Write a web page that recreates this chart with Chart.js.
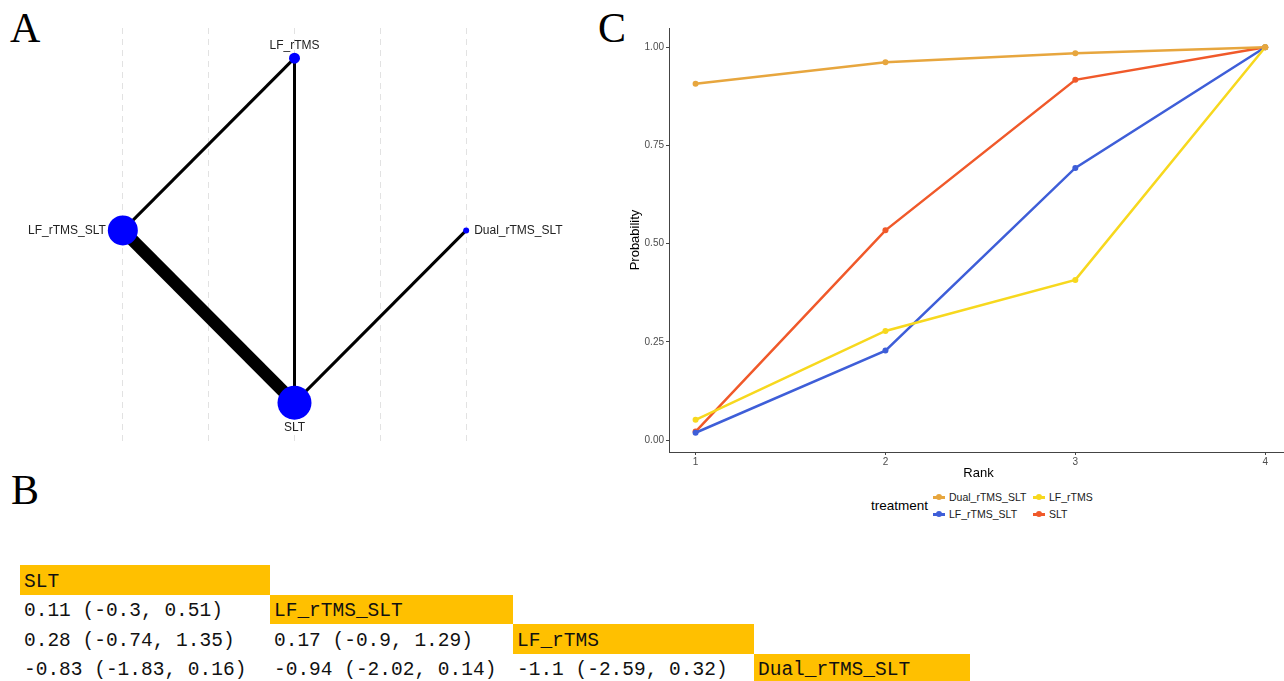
<!DOCTYPE html>
<html>
<head>
<meta charset="utf-8">
<script src="https://cdn.jsdelivr.net/npm/chart.js@4.4.1/dist/chart.umd.min.js"></script>
<style>
html, body { margin: 0; padding: 0; width: 1284px; height: 681px; overflow: hidden; background: #fff; }
.tag { position: absolute; font-family: "Liberation Serif", serif; font-size: 42px; line-height: 42px; color: #000; }
#netWrap { position: absolute; left: 0; top: 0; }
#rankWrap { position: absolute; left: 600px; top: 0; }
#league { position: absolute; left: 20px; top: 565px; border-collapse: collapse; table-layout: fixed; width: 950px;
  font-family: "Liberation Mono", monospace; font-size: 19.5px; color: #111; }
#league td { height: 29.5px; padding: 0 0 2px 4px; box-sizing: border-box; vertical-align: bottom; white-space: nowrap; line-height: 22px; }
#league td.diag { background: #FFC000; }
#legendTitle { position: absolute; left: 871px; top: 498px; font-family: "Liberation Sans", sans-serif; font-size: 13.5px; color: #000; }
#legendItems { position: absolute; left: 933px; top: 489px; display: grid; grid-template-columns: 100px 100px; row-gap: 1px;
  font-family: "Liberation Sans", sans-serif; font-size: 10.5px; color: #1a1a1a; }
.item { display: flex; align-items: center; height: 16px; }
.key { position: relative; width: 12px; height: 16px; margin-right: 4px; }
.key .ln { position: absolute; left: 0; top: 7px; width: 12px; height: 2.5px; }
.key .pt { position: absolute; left: 3px; top: 5px; width: 6px; height: 6px; border-radius: 50%; }
</style>
</head>
<body>
<div class="tag" style="left:10px; top:7px;">A</div>
<div class="tag" style="left:11px; top:469px;">B</div>
<div class="tag" style="left:598px; top:7px;">C</div>

<div id="netWrap"><canvas id="network" width="600" height="461"></canvas></div>
<div id="rankWrap"><canvas id="ranking" width="692" height="484"></canvas></div>
<div id="legendTitle">treatment</div>
<div id="legendItems"></div>
<table id="league"><colgroup><col style="width:250px"><col style="width:243px"><col style="width:241px"><col style="width:216px"></colgroup><tbody></tbody></table>

<script>
// ---- A: network plot
const nodeNames = ['LF_rTMS', 'LF_rTMS_SLT', 'Dual_rTMS_SLT', 'SLT'];
const nodeX = [0, -1, 1, 0];
const nodeY = [1, 0, 0, -1];
const nodeWeight = [5.5, 15, 3, 17];   // drawn as point radius
const edgeFrom = ['LF_rTMS', 'LF_rTMS', 'LF_rTMS_SLT', 'SLT'];
const edgeTo = ['LF_rTMS_SLT', 'SLT', 'SLT', 'Dual_rTMS_SLT'];
const edgeWeight = [3, 3, 12.5, 3];    // drawn as line width
const gridX = [-1, -0.5, 0, 0.5, 1];

// ---- B: league table (row treatment vs column treatment)
const leagueNames = ['SLT', 'LF_rTMS_SLT', 'LF_rTMS', 'Dual_rTMS_SLT'];
const leagueMean = [[], [0.11], [0.28, 0.17], [-0.83, -0.94, -1.1]];
const leagueLow = [[], [-0.3], [-0.74, -0.9], [-1.83, -2.02, -2.59]];
const leagueHigh = [[], [0.51], [1.35, 1.29], [0.16, 0.14, 0.32]];

// ---- C: cumulative ranking probabilities
const ranks = [1, 2, 3, 4];
const treatments = ['Dual_rTMS_SLT', 'LF_rTMS', 'LF_rTMS_SLT', 'SLT'];
const dualProb = [0.907, 0.962, 0.985, 1.0];
const lfProb = [0.052, 0.278, 0.408, 1.0];
const lfSltProb = [0.019, 0.228, 0.693, 1.0];
const sltProb = [0.022, 0.534, 0.917, 1.0];
const yTicks = [0, 0.25, 0.5, 0.75, 1];

const colors = ['#E7A63E', '#F7D81E', '#3E5ED8', '#F0592A'];
const labelSide = ['top', 'left', 'right', 'bottom'];

// network
const idx = name => nodeNames.indexOf(name);
const edgeSets = edgeFrom.map((f, i) => ({
  type: 'line',
  showLine: true,
  data: [{ x: nodeX[idx(f)], y: nodeY[idx(f)] }, { x: nodeX[idx(edgeTo[i])], y: nodeY[idx(edgeTo[i])] }],
  borderColor: '#000',
  borderWidth: edgeWeight[i],
  pointRadius: 0,
  order: 1
}));

const nodeLabels = {
  id: 'nodeLabels',
  afterDatasetsDraw(chart) {
    const ctx = chart.ctx;
    const sx = chart.scales.x, sy = chart.scales.y;
    ctx.save();
    ctx.font = '12px "Liberation Sans", Arial, sans-serif';
    ctx.fillStyle = '#222';
    nodeNames.forEach((n, i) => {
      const px = sx.getPixelForValue(nodeX[i]);
      const py = sy.getPixelForValue(nodeY[i]);
      const r = nodeWeight[i];
      ctx.textBaseline = 'middle';
      if (labelSide[i] === 'top') { ctx.textAlign = 'center'; ctx.fillText(n, px, py - r - 7); }
      if (labelSide[i] === 'bottom') { ctx.textAlign = 'center'; ctx.fillText(n, px, py + r + 8); }
      if (labelSide[i] === 'left') { ctx.textAlign = 'right'; ctx.fillText(n, px - r - 2, py); }
      if (labelSide[i] === 'right') { ctx.textAlign = 'left'; ctx.fillText(n, px + r + 5, py); }
    });
    ctx.restore();
  }
};

new Chart(document.getElementById('network'), {
  type: 'scatter',
  data: {
    datasets: [{
      data: nodeX.map((x, i) => ({ x: x, y: nodeY[i] })),
      pointRadius: nodeWeight,
      pointHoverRadius: nodeWeight,
      backgroundColor: '#0000FF',
      borderWidth: 0,
      order: 0
    }].concat(edgeSets)
  },
  options: {
    responsive: false,
    animation: false,
    layout: { padding: { left: 37, right: 48, top: 28, bottom: 7 } },
    plugins: { legend: { display: false }, tooltip: { enabled: false } },
    scales: {
      x: {
        type: 'linear', min: -1.5, max: 1.5,
        afterBuildTicks: s => { s.ticks = gridX.map(v => ({ value: v })); },
        afterFit: s => { s.height = 0; },
        ticks: { display: false },
        grid: { color: '#e2e2e2', drawTicks: false, lineWidth: 1 },
        border: { display: false, dash: [6, 5] }
      },
      y: { min: -1.24, max: 1.175, display: false }
    }
  },
  plugins: [nodeLabels]
});

// league table
const tbody = document.querySelector('#league tbody');
leagueNames.forEach((name, r) => {
  const tr = document.createElement('tr');
  for (let c = 0; c < leagueNames.length; c++) {
    const td = document.createElement('td');
    if (c < r) td.textContent = leagueMean[r][c] + ' (' + leagueLow[r][c] + ', ' + leagueHigh[r][c] + ')';
    if (c === r) { td.textContent = name; td.className = 'diag'; }
    tr.appendChild(td);
  }
  tbody.appendChild(tr);
});

// ranking chart
const probs = [dualProb, lfProb, lfSltProb, sltProb];
const tickFont = { family: 'Liberation Sans', size: 10 };
const titleFont = { family: 'Liberation Sans', size: 13 };

new Chart(document.getElementById('ranking'), {
  type: 'line',
  data: {
    datasets: treatments.map((t, i) => ({
      label: t,
      data: ranks.map((r, j) => ({ x: r, y: probs[i][j] })),
      borderColor: colors[i],
      backgroundColor: colors[i],
      borderWidth: 2.5,
      pointRadius: 3,
      pointBorderWidth: 0,
      tension: 0
    }))
  },
  options: {
    responsive: false,
    animation: false,
    layout: { padding: { left: 28, top: 28, right: 0, bottom: 0 } },
    plugins: { legend: { display: false }, tooltip: { enabled: false } },
    scales: {
      x: {
        type: 'linear', min: 0.86, max: 4.12,
        afterBuildTicks: s => { s.ticks = ranks.map(v => ({ value: v })); },
        afterFit: s => { s.height = 32; },
        ticks: { color: '#4d4d4d', font: tickFont, padding: 1, maxRotation: 0 },
        grid: { drawOnChartArea: false, drawTicks: true, tickLength: 3, color: '#444' },
        border: { display: true, color: '#444', width: 1 },
        title: { display: true, text: 'Rank', color: '#000', font: titleFont, padding: { top: 0, bottom: 3 } }
      },
      y: {
        type: 'linear', min: -0.03, max: 1.049,
        afterBuildTicks: s => { s.ticks = yTicks.map(v => ({ value: v })); },
        afterFit: s => { s.width = 41; },
        ticks: { color: '#4d4d4d', font: tickFont, padding: 2, callback: v => v.toFixed(2) },
        grid: { drawOnChartArea: false, drawTicks: true, tickLength: 3, color: '#444' },
        border: { display: true, color: '#444', width: 1 },
        title: { display: true, text: 'Probability', color: '#000', font: titleFont, padding: { top: 0, bottom: 2 } }
      }
    }
  }
});

// legend (two rows, filled by row like ggplot)
const legendBox = document.getElementById('legendItems');
treatments.forEach((t, i) => {
  const item = document.createElement('div');
  item.className = 'item';
  item.innerHTML = '<span class="key"><span class="ln" style="background:' + colors[i] + '"></span>' +
    '<span class="pt" style="background:' + colors[i] + '"></span></span>' + t;
  legendBox.appendChild(item);
});
</script>
</body>
</html>
